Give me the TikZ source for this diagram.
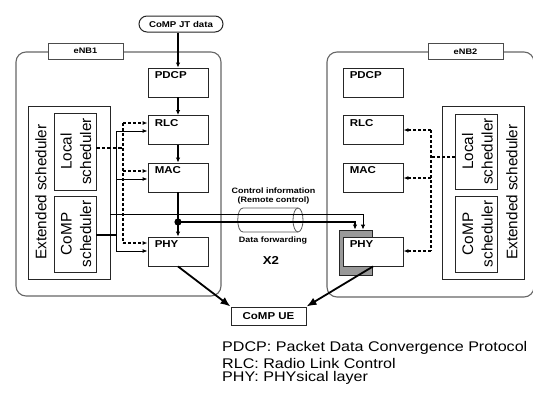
\documentclass[tikz,border=0pt]{standalone}
\usepackage{fontspec}
\setmainfont{Liberation Sans}
\newfontfamily\widesans[FakeStretch=1.15]{Liberation Sans}
\usetikzlibrary{arrows.meta}
\begin{document}
\begin{tikzpicture}[x=1pt,y=-1pt,
  frame/.style={draw=black!60, line width=1.1pt, rounded corners=10pt, inner sep=0pt},
  tag/.style={draw=black!70, line width=0.9pt, fill=white, inner sep=0pt,
    minimum width=75pt, minimum height=16pt, font=\widesans\bfseries\fontsize{8}{9}\selectfont},
  layer/.style={draw=black!85, line width=0.9pt, fill=white, inner sep=0pt,
    minimum width=60pt, minimum height=29pt},
  lbl/.style={font=\widesans\bfseries\fontsize{10}{12}\selectfont, inner sep=0pt,
    anchor=north west, xshift=7pt, yshift=-4pt},
  sched/.style={draw=black!85, line width=0.9pt, inner sep=0pt, minimum width=42pt},
  rot/.style={rotate=90, font=\fontsize{15.3}{19.5}\selectfont, align=center, inner sep=0pt},
  flow/.style={line width=1.4pt, -{Latex[length=5pt,width=4.5pt]}},
  bus/.style={line width=0.9pt},
  busarrow/.style={line width=0.9pt, -{Latex[length=5pt,width=4pt]}},
  dbus/.style={line width=1.1pt, dash pattern=on 3pt off 2pt},
  dbusarrow/.style={line width=1.1pt, dash pattern=on 3pt off 2pt, -{Latex[length=5pt,width=4pt]}},
  uearrow/.style={line width=1.8pt, -{Latex[length=10pt,width=8pt]}},
  note/.style={font=\widesans\bfseries\fontsize{7.8}{9}\selectfont, inner sep=0pt},
  legend/.style={font=\widesans\fontsize{14}{15}\selectfont, inner sep=0pt, anchor=west}
]
\useasboundingbox (0,0) rectangle (533,397);
\clip (0,0) rectangle (533,397);

% ---------- base station frames ----------
\node[frame, minimum width=205pt, minimum height=244pt] (enb1) at (118.5,174) {};
\node[tag] (enb1tag) at (85.5,51) {eNB1};
\node[frame, minimum width=207pt, minimum height=245pt] (enb2) at (430.5,174.5) {};
\node[tag] (enb2tag) at (465.5,51.5) {eNB2};

% ---------- input data ----------
\node[draw=black!85, line width=1pt, rounded corners=8pt, fill=white, inner sep=0pt,
  minimum width=84pt, minimum height=16pt,
  font=\widesans\bfseries\fontsize{8.4}{10}\selectfont] (jt) at (181,24) {CoMP JT data};

% ---------- protocol stack of eNB1 ----------
\node[layer, label={[lbl]north west:PDCP}] (pdcp1) at (178,82.5) {};
\node[layer, label={[lbl]north west:RLC}]  (rlc1)  at (178,130) {};
\node[layer, label={[lbl]north west:MAC}]  (mac1)  at (178,177.5) {};
\node[layer, label={[lbl]north west:PHY}]  (phy1)  at (178,251.5) {};

% ---------- protocol stack of eNB2 ----------
\node[layer, label={[lbl]north west:PDCP}] (pdcp2) at (373,82.5) {};
\node[layer, label={[lbl]north west:RLC}]  (rlc2)  at (373,130) {};
\node[layer, label={[lbl]north west:MAC}]  (mac2)  at (373,177.5) {};
\node[draw=black!85, line width=0.9pt, fill=black!40, inner sep=0pt,
  minimum width=33pt, minimum height=45pt] (phy2bg) at (355.5,252.5) {};
\node[layer, label={[lbl]north west:PHY}]  (phy2)  at (373,251.5) {};

% ---------- schedulers of eNB1 ----------
\node[sched, minimum width=82pt, minimum height=173pt] (ext1) at (69,192.5) {};
\node[rot] (ext1txt) at (41,192) {Extended scheduler};
\node[sched, minimum height=77pt] (local1) at (75,151.5) {};
\node[rot] (local1txt) at (76,151.5) {Local\\scheduler};
\node[sched, minimum height=76pt] (comp1) at (75,234) {};
\node[rot] (comp1txt) at (76,234) {CoMP\\scheduler};

% ---------- schedulers of eNB2 ----------
\node[sched, minimum width=82pt, minimum height=173pt] (ext2) at (483,192.5) {};
\node[rot] (ext2txt) at (512,192) {Extended scheduler};
\node[sched, minimum height=75pt] (local2) at (476.5,151.5) {};
\node[rot] (local2txt) at (477.5,151.5) {Local\\scheduler};
\node[sched, minimum height=76pt] (comp2) at (476.5,234) {};
\node[rot] (comp2txt) at (477.5,234) {CoMP\\scheduler};

% ---------- UE ----------
\node[draw=black!85, line width=1pt, fill=white, inner sep=0pt,
  minimum width=75pt, minimum height=18pt,
  font=\widesans\bfseries\fontsize{10}{12}\selectfont] (ue) at (268.5,316) {CoMP UE};

% ---------- X2 interface (cylinder) ----------
\draw[black!65, line width=0.8pt]
  (298,208) -- (243,208) .. controls (236,208) and (236,232) .. (243,232) -- (298,232);
\draw[black!65, line width=0.8pt] (298,220) ellipse [x radius=5pt, y radius=12pt];
\node[note] (ctrl) at (273.5,191) {Control information};
\node[note] (remote) at (273.5,200.5) {(Remote control)};
\node[note] (fwd) at (273,240) {Data forwarding};
\node[font=\widesans\bfseries\fontsize{11.5}{13}\selectfont, inner sep=0pt] (x2) at (271,260) {X2};

% ---------- data path in eNB1 ----------
\draw[flow] (pdcp1.north |- jt.south) -- (pdcp1.north);
\draw[flow] (pdcp1.south) -- (rlc1.north);
\draw[flow] (rlc1.south) -- (mac1.north);
\draw[flow] (mac1.south) -- (phy1.north);
\coordinate (dot) at (178,222);
\fill (dot) circle (3.6pt);

% ---------- eNB1 scheduler control (solid) ----------
\coordinate (sb1) at (116,131);
\coordinate (sb2) at (116,179);
\coordinate (sb3) at (116,251);
\draw[bus] (sb1) -- (sb3);
\draw[busarrow] (sb1) -- (rlc1.west |- sb1);
\draw[busarrow] (sb2) -- (mac1.west |- sb2);
\draw[busarrow] (sb3) -- (phy1.west |- sb3);
\draw[line width=1.6pt] (comp1.east |- 0,235) -- (116,235);

% ---------- eNB1 scheduler control (dashed) ----------
\coordinate (db1) at (123,123);
\coordinate (db2) at (123,171);
\coordinate (db3) at (123,243);
\draw[dbus] (db1) -- (db3);
\draw[dbusarrow] (db1) -- (rlc1.west |- db1);
\draw[dbusarrow] (db2) -- (mac1.west |- db2);
\draw[dbusarrow] (db3) -- (phy1.west |- db3);
\draw[line width=1.6pt, dash pattern=on 3.5pt off 2pt] (local1.east |- 0,148) -- (123,148);

% ---------- remote control and data forwarding over X2 ----------
\coordinate (ctrlturn) at (363,214);
\coordinate (dataturn) at (355,222);
\draw[line width=0.9pt, -{Latex[length=5pt,width=4.5pt]}]
  (ext1.east |- ctrlturn) -- (ctrlturn) -- (ctrlturn |- phy2bg.north);
\draw[line width=2pt, -{Latex[length=5pt,width=4.5pt]}]
  (dot) -- (dataturn) -- (dataturn |- phy2bg.north);

% ---------- eNB2 scheduler control (dashed) ----------
\coordinate (eb1) at (431,130);
\coordinate (eb2) at (431,178);
\coordinate (eb3) at (431,251);
\draw[dbus] (eb1) -- (eb3);
\draw[dbusarrow] (eb1) -- (rlc2.east |- eb1);
\draw[dbusarrow] (eb2) -- (mac2.east |- eb2);
\draw[dbusarrow] (eb3) -- (phy2.east |- eb3);
\draw[dbus] (local2.west |- 0,157) -- (431,157);

% ---------- transmission to the UE ----------
\draw[uearrow] (phy1.south) -- (ue.north west);
\draw[uearrow] (phy2.south) -- (ue.north east);

% ---------- legend ----------
\node[legend] (leg1) at (222,348) {PDCP: Packet Data Convergence Protocol};
\node[legend] (leg2) at (222,363) {RLC: Radio Link Control};
\node[legend] (leg3) at (222,378) {PHY: PHYsical layer};
\end{tikzpicture}
\end{document}
